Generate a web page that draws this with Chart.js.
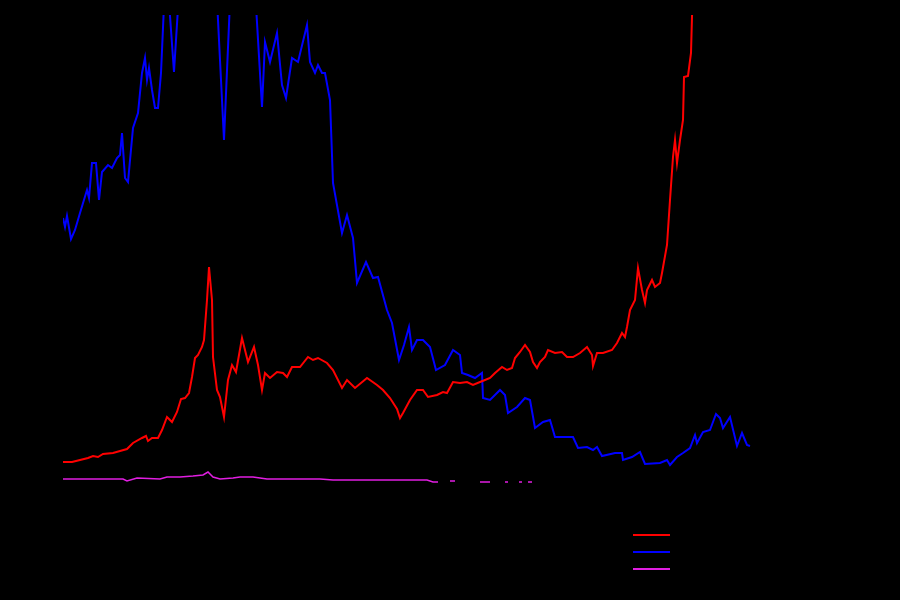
<!DOCTYPE html>
<html>
<head>
<meta charset="utf-8">
<script src="https://cdn.jsdelivr.net/npm/chart.js@4.4.1/dist/chart.umd.min.js"></script>
<style>
    body { margin: 0; background: #000; font-family: "DejaVu Sans", sans-serif; }
    .wrap { position: relative; width: 900px; height: 600px; }
    #legend { position: absolute; left: 633px; top: 526px; color: #000; font-size: 12px; }
    #legend div { height: 17px; display: flex; align-items: center; }
    #legend span.swatch { display: inline-block; width: 37px; height: 0; margin-right: 8px; }
</style>
</head>
<body>
<div class="wrap">
    <canvas id="myChart" width="900" height="600"></canvas>
    <div id="legend"></div>
</div>
<script>

// [x, y] pairs
const seriesNames = ['Series 1', 'Series 2', 'Series 3'];
const seriesColors = ['#ff0000', '#0000ff', '#e11ee1'];

const redPoints = [
    [0, 3.6], [1.8, 3.6], [5, 4.4], [6, 4.8], [7, 4.6], [8, 5.2], [10, 5.4], [11.4, 5.8],
    [12.8, 6.2], [14, 7.4], [15.8, 8.4], [16.6, 8.8], [17, 7.8], [17.8, 8.4], [19, 8.4],
    [19.8, 10], [20.8, 12.6], [21.8, 11.6], [22.8, 13.6], [23.6, 16.2], [24.4, 16.4],
    [25.2, 17.4], [25.8, 20.6], [26.4, 24.4], [27, 25], [27.8, 26.6], [28.2, 28], [28.8, 36],
    [29.2, 42.6], [29.8, 36], [30, 24.6], [30.8, 18], [31.4, 16.6], [32.2, 12.6], [33, 20],
    [33.8, 23], [34.6, 21.6], [35.8, 28.4], [37, 23.6], [38.2, 26.6], [39, 23], [39.8, 18],
    [40.4, 21.4], [41.4, 20.4], [42.8, 21.6], [44, 21.4], [44.8, 20.6], [45.8, 22.6],
    [47.4, 22.6], [49, 24.6], [50, 24], [51, 24.4], [52.8, 23.4], [54, 22], [55.8, 18.4],
    [56.8, 20], [58.4, 18.4], [60.8, 20.4], [62.8, 19], [64, 18], [65.4, 16.4], [66.8, 14.2],
    [67.4, 12.4], [68, 13.4], [69.4, 16], [70.8, 18], [72, 18], [73, 16.6], [74.8, 17],
    [76, 17.6], [76.8, 17.4], [78, 19.6], [79.4, 19.4], [80.8, 19.6], [82, 19], [83.4, 19.6],
    [84.4, 20], [85.4, 20.4], [86.4, 21.4], [87.8, 22.6], [88.8, 22], [89.8, 22.4],
    [90.4, 24.4], [91.4, 25.6], [92.4, 27], [93.4, 25.6], [94, 23.6], [94.8, 22.4],
    [95.4, 23.6], [96.4, 24.6], [97, 26], [98.4, 25.4], [99.8, 25.6], [100.8, 24.6],
    [102, 24.6], [103.4, 25.4], [104.8, 26.6], [105.8, 25], [106, 22.8], [106.8, 25.4],
    [108, 25.4], [109.8, 26], [110.8, 27.4], [111.8, 29.4], [112.4, 28.6], [112.8, 30.6],
    [113.4, 34], [114.4, 36], [115, 42.4], [115.8, 38], [116.4, 35.4], [116.8, 38],
    [117.8, 40], [118.4, 38.6], [119.4, 39.4], [119.8, 41.4], [120.8, 47], [121.4, 56],
    [122, 64.6], [122.4, 68], [122.8, 63.4], [123.4, 68], [124, 72], [124.2, 80.6],
    [125, 80.8], [125.6, 85.4], [126, 100]
];

const bluePoints = [
    [0, 52.4], [0.4, 50.6], [0.8, 52.8], [1.6, 48.2], [2.4, 50], [3.4, 53.4], [4.8, 58],
    [5.2, 56.4], [5.8, 63.4], [6.6, 63.4], [7.2, 56], [7.8, 61.6], [9, 63], [9.8, 62.4],
    [10.8, 64.4], [11.4, 65], [11.8, 69.4], [12.4, 60.4], [13, 59.6], [14, 70.4],
    [15, 73.4], [15.8, 81.4], [16.4, 84.4], [16.8, 80], [17.2, 82.4], [17.8, 78],
    [18.4, 74.4], [19, 74.4], [19.6, 81.4], [20.6, 104], [22.2, 81.6], [23.6, 104],
    [27, 115], [30.4, 104], [32.2, 68], [33.8, 105], [38, 105], [39.8, 74.6], [40.4, 87.6],
    [41.4, 83.6], [42.8, 89.4], [43.8, 79], [44.6, 76.4], [45.8, 84.4], [47, 83.6],
    [48.8, 91], [49.4, 83.6], [50.4, 81.4], [51, 83], [51.8, 81.4], [52.4, 81.4], [53.4, 76],
    [54, 59.4], [55.8, 49.4], [56.8, 53], [58, 48.4], [58.8, 39.4], [60.6, 43.6], [62, 40.4],
    [63, 40.6], [64.8, 34], [65.8, 31.4], [67.2, 24], [68.2, 27], [69.2, 30.6], [69.8, 26],
    [70.8, 28], [72, 28], [73.4, 26.6], [74.6, 22], [76.4, 23], [78, 26], [79.4, 25],
    [79.8, 21.4], [81, 21], [82.4, 20.4], [83.8, 21.4], [84, 16.4], [85.4, 16], [87.4, 18],
    [88.4, 17], [89, 13.4], [90.8, 14.6], [92.4, 16.4], [93.4, 16], [94.4, 10.4], [96, 11.6],
    [97.4, 12], [98.4, 8.6], [102, 8.6], [103, 6.4], [104.8, 6.6], [106, 6], [106.8, 6.6],
    [107.8, 4.8], [110.4, 5.4], [111.8, 5.4], [112, 4], [113.8, 4.6], [115.4, 5.6],
    [116.4, 3.2], [119.4, 3.4], [120.8, 4], [121.4, 3], [122.8, 4.6], [124, 5.4],
    [125.4, 6.4], [126.4, 9], [126.8, 7.4], [128, 9.6], [129.4, 10], [130.6, 13.2],
    [131.4, 12.4], [132, 10.4], [133.4, 12.6], [134.8, 6.8], [135.8, 9.4], [136.8, 7],
    [137.4, 6.8]
];

const magentaPoints = [
    [0, 0.2], [12, 0.2], [12.8, -0.2], [14.8, 0.4], [19.4, 0.2], [20.8, 0.6], [23.4, 0.6],
    [26, 0.8], [28, 1], [29, 1.6], [30, 0.6], [31.4, 0.2], [34, 0.4], [35.4, 0.6], [38, 0.6],
    [40.8, 0.2], [47.4, 0.2], [51.4, 0.2], [54, 0], [60.8, 0], [72.8, 0], [74, -0.4],
    [75, -0.4], [76, null], [77.4, -0.2], [78.4, -0.2], [80, null], [83.4, -0.4],
    [85.4, -0.4], [86.5, null], [88.4, -0.4], [89, -0.4], [90, null], [91.2, -0.4],
    [91.8, -0.4], [92.5, null], [93, -0.4], [93.8, -0.4]
];

const xMin = 0, xMax = 140;
const yMin = -1, yMax = 93;

function toXY(points) {
    return points.map(p => ({ x: p[0], y: p[1] }));
}

document.addEventListener('DOMContentLoaded', function () {

    var ctx = document.getElementById('myChart').getContext('2d');

    var myChart = new Chart(ctx, {
        type: 'line',
        data: {
            datasets: [{
                label: seriesNames[0],
                data: toXY(redPoints),
                borderColor: seriesColors[0],
                borderWidth: 2
            }, {
                label: seriesNames[1],
                data: toXY(bluePoints),
                borderColor: seriesColors[1],
                borderWidth: 2
            }, {
                label: seriesNames[2],
                data: toXY(magentaPoints),
                borderColor: seriesColors[2],
                borderWidth: 1.5,
                spanGaps: false
            }]
        },
        options: {
            responsive: false,
            animation: false,
            layout: {
                padding: { top: 15, right: 137, bottom: 75, left: 0 }
            },
            elements: {
                point: { radius: 0 },
                line: { tension: 0 }
            },
            scales: {
                x: {
                    type: 'linear',
                    min: xMin,
                    max: xMax,
                    grid: { display: false },
                    border: { color: '#000' },
                    ticks: { color: '#000' },
                    afterFit: function (scale) { scale.height = 40; }
                },
                y: {
                    min: yMin,
                    max: yMax,
                    grid: { display: false },
                    border: { color: '#000' },
                    ticks: { color: '#000' },
                    afterFit: function (scale) { scale.width = 63; }
                }
            },
            plugins: {
                legend: { display: false },
                tooltip: { enabled: false }
            }
        }
    });

    // legend drawn in html, under the plot
    const legend = document.getElementById('legend');
    myChart.data.datasets.forEach(function (ds) {
        const row = document.createElement('div');
        row.innerHTML = '<span class="swatch" style="border-top:2px solid ' + ds.borderColor + '"></span>' + ds.label;
        legend.appendChild(row);
    });
});
</script>
</body>
</html>
